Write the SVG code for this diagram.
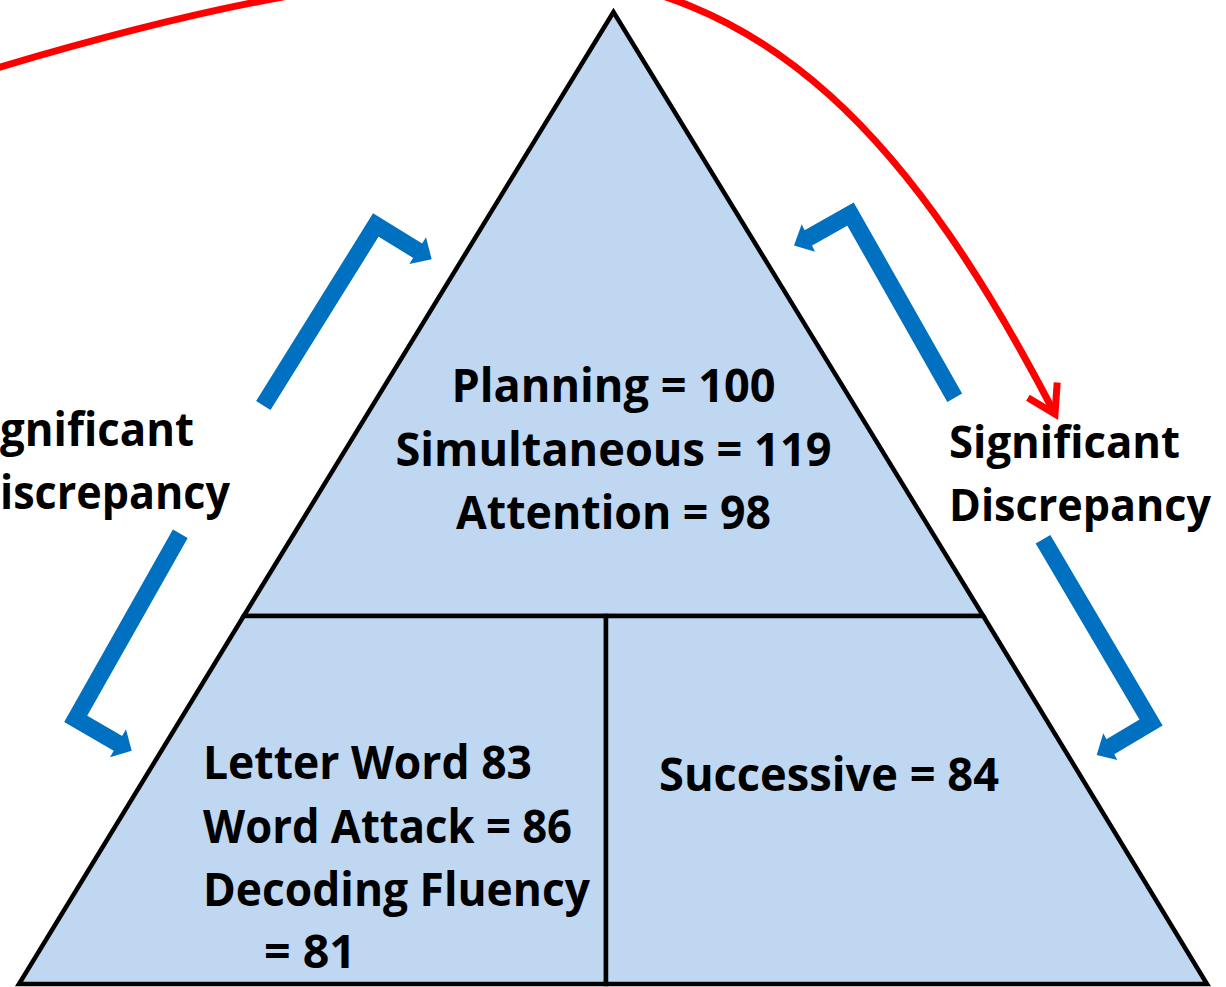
<svg xmlns="http://www.w3.org/2000/svg" width="1226" height="987" viewBox="0 0 1226 987">
  <style>
    .sec { fill: #BFD7F0; stroke: #000000; stroke-width: 4.5; stroke-linejoin: miter; }
    .t { font-family: "Open Sans", "Liberation Sans", sans-serif; font-weight: 700; font-size: 46px; fill: #000000; }
    .side { font-size: 44.5px; }
    .mid { text-anchor: middle; }
    .shaft { fill: none; stroke: #0070C0; stroke-width: 17; stroke-linejoin: miter; stroke-linecap: butt; }
    .head { fill: #0070C0; stroke: none; }
    .red { fill: none; stroke: #FF0000; stroke-width: 7; stroke-linecap: butt; }
  </style>
  <defs>
    <marker id="redV" markerUnits="userSpaceOnUse" orient="auto" refX="0" refY="0" markerWidth="60" markerHeight="60" viewBox="-40 -30 60 60" overflow="visible">
      <path d="M-27,-16.5 L0,0 L-27,16.5" fill="none" stroke="#FF0000" stroke-width="7" stroke-linejoin="miter"/>
    </marker>
  </defs>
  <rect x="0" y="0" width="1226" height="987" fill="#FFFFFF"/>

  <g id="pyramid">
    <g id="node-top">
      <polygon class="sec" points="613.5,12 243.7,616 983.3,616"/>
      <text class="t mid" x="613.5" y="402" textLength="324" lengthAdjust="spacingAndGlyphs">Planning = 100</text>
      <text class="t mid" x="613.5" y="466" textLength="436" lengthAdjust="spacingAndGlyphs">Simultaneous = 119</text>
      <text class="t mid" x="613.5" y="529" textLength="315" lengthAdjust="spacingAndGlyphs">Attention = 98</text>
    </g>
    <g id="node-bottom-left">
      <polygon class="sec" points="243.7,616 606,616 606,984 19,984"/>
      <text class="t" x="203" y="779" textLength="329" lengthAdjust="spacingAndGlyphs">Letter Word 83</text>
      <text class="t" x="203" y="843" textLength="369" lengthAdjust="spacingAndGlyphs">Word Attack = 86</text>
      <text class="t" x="203" y="906" textLength="387" lengthAdjust="spacingAndGlyphs">Decoding Fluency</text>
      <text class="t" x="264" y="968" textLength="92" lengthAdjust="spacingAndGlyphs">= 81</text>
    </g>
    <g id="node-bottom-right">
      <polygon class="sec" points="606,616 983.3,616 1207,984 606,984"/>
      <text class="t mid" x="829" y="791" textLength="340" lengthAdjust="spacingAndGlyphs">Successive = 84</text>
    </g>
  </g>

  <g id="label-left">
    <text class="t" x="0" y="446" textLength="194" lengthAdjust="spacingAndGlyphs">gnificant</text>
    <text class="t" x="0" y="509" textLength="230" lengthAdjust="spacingAndGlyphs">iscrepancy</text>
  </g>
  <g id="label-right">
    <text class="t side" x="949" y="458" textLength="231" lengthAdjust="spacingAndGlyphs">Significant</text>
    <text class="t side" x="949" y="521" textLength="262" lengthAdjust="spacingAndGlyphs">Discrepancy</text>
  </g>

  <g id="connectors">
    <g id="arrow-upper-left">
      <polyline class="shaft" points="263.3,405.5 375.8,225 418.5,251.2"/>
      <polygon class="head" points="426,237.3 431.7,259.3 409.3,264"/>
    </g>
    <g id="arrow-upper-right">
      <polyline class="shaft" points="954.7,397.8 850.5,214 807.5,238.4"/>
      <polygon class="head" points="801.7,224.3 794,245.5 815,251.7"/>
    </g>
    <g id="arrow-lower-right">
      <polyline class="shaft" points="1043,539.2 1151,722.5 1109.5,747.2"/>
      <polygon class="head" points="1103.3,733.3 1096.7,755 1117.3,760"/>
    </g>
    <g id="arrow-lower-left">
      <polyline class="shaft" points="180.3,533.7 75.7,718.8 118.8,743.8"/>
      <polygon class="head" points="126,729.3 131.7,750.7 110,757.3"/>
    </g>
    <path id="red-curve" class="red" d="M-20,73 C173,15 347,-26 520,-26 C770,-26 919,152 1055,414" marker-end="url(#redV)"/>
  </g>
</svg>
